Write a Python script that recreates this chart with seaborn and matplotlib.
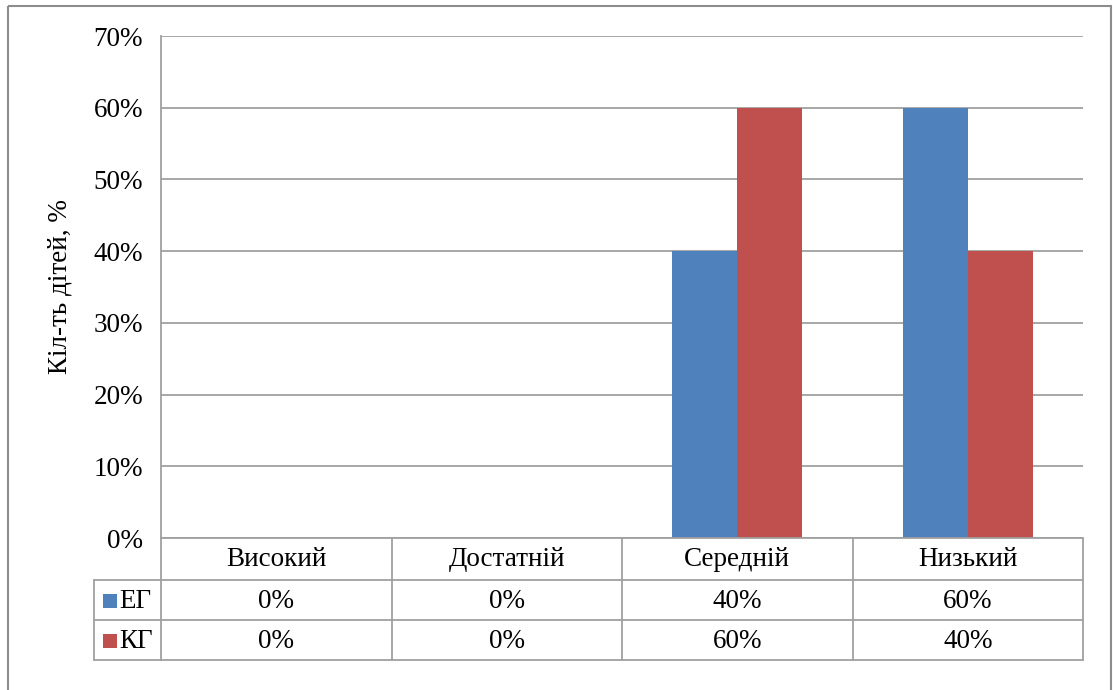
import pandas as pd
import seaborn as sns
import matplotlib.pyplot as plt
import matplotlib.transforms as mtransforms
from matplotlib.patches import Rectangle
from matplotlib.ticker import PercentFormatter

levels = ['Високий', 'Достатній', 'Середній', 'Низький']
groups = ['ЕГ', 'КГ']
eg_values = [0, 0, 40, 60]
kg_values = [0, 0, 60, 40]
colors = ['#4F81BD', '#C0504D']
grid_color = '#A0A0A0'

# long table for seaborn
rows = []
for name, vals in zip(groups, [eg_values, kg_values]):
    for lev, v in zip(levels, vals):
        rows.append({'level': lev, 'group': name, 'value': v / 100})
df = pd.DataFrame(rows)

sns.set_style('white')
plt.rcParams['font.family'] = ['Liberation Serif', 'DejaVu Serif']
plt.rcParams['text.color'] = 'black'
fs = 19.5

W, H = 1113, 690
fig = plt.figure(figsize=(W / 100, H / 100), dpi=100)
# plot area in pixels: left 161, top 36, right 1083, bottom 538
ax = fig.add_axes([161 / W, (H - 538) / H, (1083 - 161) / W, (538 - 36) / H])

sns.barplot(data=df, x='level', y='value', hue='group', palette=colors,
            width=0.565, linewidth=0, saturation=1, legend=False, ax=ax)

ax.set_ylim(0, 0.7)
ax.set_xlim(-0.5, len(levels) - 0.5)
ax.set_yticks([i / 10 for i in range(8)])
ax.yaxis.set_major_formatter(PercentFormatter(1.0, decimals=0))
ax.tick_params(axis='y', length=0, pad=13, labelsize=fs, labelcolor='black')
ax.set_xticks([])
ax.set_xlabel('')
ax.set_ylabel('Кіл-ть дітей, %', fontsize=fs, labelpad=15, color='black')
ax.yaxis.grid(True, color=grid_color, linewidth=1.3)
ax.set_axisbelow(True)
for side in ['top', 'right', 'bottom']:
    ax.spines[side].set_visible(False)
ax.spines['left'].set_color(grid_color)
ax.spines['left'].set_linewidth(1.3)

# pixel coordinates measured from top-left of the figure
pix = mtransforms.Affine2D().scale(1 / W, -1 / H).translate(0, 1) + fig.transFigure
xdata_ypix = mtransforms.blended_transform_factory(ax.transData, pix)

line_kw = dict(color=grid_color, linewidth=1.3, clip_on=False)
n = len(levels)
# data table below the axis
ax.plot([-0.5, n - 0.5], [538, 538], transform=xdata_ypix, **line_kw)
for yy in [580, 620, 660]:
    fig.add_artist(plt.Line2D([94, 161], [yy, yy], transform=pix, **line_kw))
    ax.plot([-0.5, n - 0.5], [yy, yy], transform=xdata_ypix, **line_kw)
fig.add_artist(plt.Line2D([94, 94], [580, 660], transform=pix, **line_kw))
fig.add_artist(plt.Line2D([161, 161], [538, 660], transform=pix, **line_kw))
for i in range(n):
    ax.plot([i + 0.5, i + 0.5], [538, 660], transform=xdata_ypix, **line_kw)

for i, lev in enumerate(levels):
    ax.text(i, 560, lev, transform=xdata_ypix, ha='center', va='center', fontsize=fs)
    ax.text(i, 601, f'{eg_values[i]}%', transform=xdata_ypix, ha='center', va='center', fontsize=fs)
    ax.text(i, 641, f'{kg_values[i]}%', transform=xdata_ypix, ha='center', va='center', fontsize=fs)

for k, (name, col) in enumerate(zip(groups, colors)):
    yc = 601 + 40 * k
    fig.add_artist(Rectangle((103, yc - 7), 14, 14, transform=pix,
                             facecolor=col, edgecolor='none'))
    fig.text(119, yc, name, transform=pix, ha='left', va='center', fontsize=fs)

# outer chart frame
fig.add_artist(Rectangle((8, 6), 1103, 700, transform=pix, facecolor='none',
                         edgecolor='#8C8C8C', linewidth=1.5, clip_on=False))

fig.savefig('out.png', dpi=100)
